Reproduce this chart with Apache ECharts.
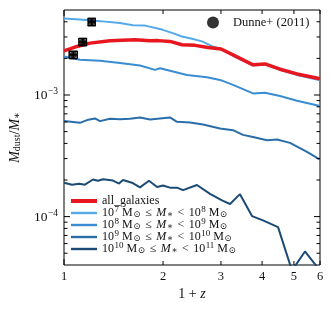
<!DOCTYPE html>
<html>
<head>
<meta charset="utf-8">
<script src="https://cdn.jsdelivr.net/npm/echarts@6/dist/echarts.min.js"></script>
<style>html,body{margin:0;padding:0;background:#fff}#c{width:334px;height:313px}</style>
</head>
<body>
<div id="c"></div>
<script>
// ---- data ----
const zAll = [1.0,1.080,1.200,1.380,1.643,1.826,1.931,2.100,2.284,2.502,2.740,3.001,3.287,3.754,4.083,4.535,5.108,6.0];
const allGalaxies = [2.31e-3,2.48e-3,2.67e-3,2.79e-3,2.85e-3,2.79e-3,2.80e-3,2.76e-3,2.59e-3,2.56e-3,2.46e-3,2.39e-3,2.12e-3,1.77e-3,1.80e-3,1.63e-3,1.49e-3,1.36e-3];

const z7 = [1.0,1.118,1.286,1.480,1.621,1.763,1.986,2.129,2.284,2.449,2.627,2.818,3.022,3.311,3.754,4.083,4.535,5.108,6.0];
const m7 = [4.25e-3,4.17e-3,4.05e-3,3.91e-3,3.75e-3,3.72e-3,3.45e-3,3.24e-3,3.03e-3,2.90e-3,2.76e-3,2.52e-3,2.38e-3,2.06e-3,1.75e-3,1.78e-3,1.61e-3,1.46e-3,1.32e-3];

const z8 = [1.0,1.118,1.286,1.480,1.702,1.891,1.958,2.100,2.365,2.720,2.980,3.264,3.754,4.083,4.535,5.108,6.0];
const m8 = [2.07e-3,1.95e-3,1.91e-3,1.83e-3,1.75e-3,1.61e-3,1.66e-3,1.58e-3,1.46e-3,1.40e-3,1.33e-3,1.21e-3,1.03e-3,1.045e-3,9.8e-4,8.97e-4,8.11e-4];

const z9 = [1.0,1.118,1.175,1.242,1.286,1.380,1.480,1.587,1.702,1.826,1.958,2.100,2.206,2.415,2.646,2.980,3.264,3.500,3.754,4.140,4.441,4.863,5.478,6.0];
const m9 = [6.10e-4,5.90e-4,6.22e-4,6.42e-4,6.10e-4,6.37e-4,6.33e-4,6.37e-4,6.54e-4,6.30e-4,6.42e-4,6.54e-4,6.02e-4,5.95e-4,5.73e-4,5.31e-4,5.14e-4,4.70e-4,4.52e-4,4.25e-4,4.31e-4,4.04e-4,3.40e-4,2.94e-4];

const z10 = [1.0,1.058,1.111,1.158,1.225,1.269,1.314,1.409,1.470,1.511,1.609,1.702,1.813,1.918,2.0,2.100,2.206,2.300,2.536,2.779,3.022,3.196,3.427,3.728,4.026,4.473,4.932,5.401,6.0];
const m10 = [1.90e-4,1.83e-4,1.86e-4,1.83e-4,2.02e-4,1.97e-4,2.03e-4,1.98e-4,1.87e-4,2.0e-4,1.90e-4,1.74e-4,1.97e-4,1.75e-4,1.80e-4,1.73e-4,1.73e-4,1.65e-4,1.82e-4,1.54e-4,1.36e-4,1.27e-4,1.53e-4,1.01e-4,9.3e-5,8.2e-5,3.6e-5,5.17e-5,3.6e-5];

const dunneZ = [1.067,1.14,1.214];
const dunneRatio = [2.14e-3,2.73e-3,3.99e-3];
const dunneZErr = [0.03,0.03,0.03];
const dunneRatioErr = [0.15e-3,0.19e-3,0.28e-3];

const xTicks = [1,2,3,4,5,6];
const xTickLabels = ['1','2','3','4','5','6'];
const yMajorTicks = [1e-4,1e-3];
const yTickLabels = ['{n|10}{s|−4}','{n|10}{s|−3}'];
const yMinorTicks = [5e-5,6e-5,7e-5,8e-5,9e-5,2e-4,3e-4,4e-4,5e-4,6e-4,7e-4,8e-4,9e-4,2e-3,3e-3,4e-3];

const X_MIN = 1, X_MAX = 6, Y_MIN = 4e-5, Y_MAX = 5e-3;

const legendLabels = {
  all_galaxies: '{n|all_galaxies}',
  m7: '{n|10}{s|7}{n| M}{b|⊙}{o|≤}{i|M}{b|∗}{o|<}{n|10}{s|8}{n| M}{b|⊙}',
  m8: '{n|10}{s|8}{n| M}{b|⊙}{o|≤}{i|M}{b|∗}{o|<}{n|10}{s|9}{n| M}{b|⊙}',
  m9: '{n|10}{s|9}{n| M}{b|⊙}{o|≤}{i|M}{b|∗}{o|<}{n|10}{s|10}{n| M}{b|⊙}',
  m10: '{n|10}{s|10}{n| M}{b|⊙}{o|≤}{i|M}{b|∗}{o|<}{n|10}{s|11}{n| M}{b|⊙}'
};

const FONT = "'Liberation Serif','DejaVu Serif',serif";
const rich = {
  n: {fontFamily: FONT, fontSize: 12, lineHeight: 12, verticalAlign: 'bottom', color: '#111'},
  o: {fontFamily: FONT, fontSize: 12, lineHeight: 12, verticalAlign: 'bottom', color: '#111', padding: [0, 4.5, 0, 4.5]},
  i: {fontFamily: FONT, fontSize: 12, lineHeight: 12, fontStyle: 'italic', verticalAlign: 'bottom', color: '#111'},
  s: {fontFamily: FONT, fontSize: 9, lineHeight: 8, verticalAlign: 'bottom', padding: [0,0,4.5,0.5], color: '#111'},
  b: {fontFamily: FONT, fontSize: 9, lineHeight: 8, verticalAlign: 'bottom', padding: [0,0,0,0.5], color: '#111'}
};
const richBig = {
  n: {fontFamily: FONT, fontSize: 14, lineHeight: 14, verticalAlign: 'bottom', color: '#111'},
  i: {fontFamily: FONT, fontSize: 14, lineHeight: 14, fontStyle: 'italic', verticalAlign: 'bottom', color: '#111'},
  b: {fontFamily: FONT, fontSize: 10, lineHeight: 9, verticalAlign: 'bottom', color: '#111'}
};

const zip = (a, b) => a.map((v, k) => [v, b[k]]);

function xTickRender(params, api) {
  const cs = params.coordSys;
  const x = api.coord([api.value(0), Y_MIN])[0];
  const len = api.value(0) === 1 ? 6 : 4;
  const yb = cs.y + cs.height, yt = cs.y;
  return {type: 'group', children: [
    {type: 'line', shape: {x1: x, y1: yb, x2: x, y2: yb - len}, style: {stroke: '#000', lineWidth: 1}},
    {type: 'line', shape: {x1: x, y1: yt, x2: x, y2: yt + len}, style: {stroke: '#000', lineWidth: 1}},
    {type: 'text', x: x, y: yb + 5, style: {text: xTickLabels[params.dataIndex], fontFamily: FONT, fontSize: 12.5, fill: '#111', align: 'center', verticalAlign: 'top'}}
  ]};
}
function yTickRender(len, withLabel) {
  return function (params, api) {
    const cs = params.coordSys;
    const y = api.coord([X_MIN, api.value(1)])[1];
    const xl = cs.x, xr = cs.x + cs.width;
    const ch = [
      {type: 'line', shape: {x1: xl, y1: y, x2: xl + len, y2: y}, style: {stroke: '#000', lineWidth: 1}},
      {type: 'line', shape: {x1: xr, y1: y, x2: xr - len, y2: y}, style: {stroke: '#000', lineWidth: 1}}
    ];
    if (withLabel) {
      ch.push({type: 'text', x: xl - 6, y: y + 1, style: {text: yTickLabels[params.dataIndex], rich: {
        n: {fontFamily: FONT, fontSize: 13.5, lineHeight: 13, verticalAlign: 'bottom', fill: '#111'},
        s: {fontFamily: FONT, fontSize: 9.5, lineHeight: 9, verticalAlign: 'bottom', padding: [0,0,6,0.5], fill: '#111'}
      }, align: 'right', verticalAlign: 'middle'}});
    }
    return {type: 'group', children: ch};
  };
}
function errRender(params, api) {
  const i = params.dataIndex;
  const z = dunneZ[i], r = dunneRatio[i];
  const c = api.coord([z, r]);
  const l = api.coord([z - dunneZErr[i], r])[0];
  const rr = api.coord([z + dunneZErr[i], r])[0];
  const t = api.coord([z, r + dunneRatioErr[i]])[1];
  const b = api.coord([z, r - dunneRatioErr[i]])[1];
  const cap = 4;
  const st = {stroke: '#000', lineWidth: 1.5};
  return {type: 'group', children: [
    {type: 'line', shape: {x1: l, y1: c[1], x2: rr, y2: c[1]}, style: st},
    {type: 'line', shape: {x1: c[0], y1: t, x2: c[0], y2: b}, style: st},
    {type: 'line', shape: {x1: l, y1: c[1] - cap, x2: l, y2: c[1] + cap}, style: st},
    {type: 'line', shape: {x1: rr, y1: c[1] - cap, x2: rr, y2: c[1] + cap}, style: st},
    {type: 'line', shape: {x1: c[0] - cap, y1: t, x2: c[0] + cap, y2: t}, style: st},
    {type: 'line', shape: {x1: c[0] - cap, y1: b, x2: c[0] + cap, y2: b}, style: st}
  ]};
}

const lineSeries = (name, xs, ys, color, width, z) => ({
  name: name, type: 'line', data: zip(xs, ys), showSymbol: false, symbol: 'none',
  lineStyle: {color: color, width: width}, itemStyle: {color: color}, z: z, clip: true
});

const option = {
  animation: false,
  grid: {left: 64, right: 14, top: 10, bottom: 48, show: true, borderColor: '#000', borderWidth: 1, backgroundColor: 'transparent'},
  xAxis: {
    type: 'log', min: X_MIN, max: X_MAX, logBase: 10,
    axisLine: {show: false}, axisTick: {show: false}, axisLabel: {show: false}, splitLine: {show: false},
    name: '{n|1 + }{i|z}', nameLocation: 'middle', nameGap: 22,
    nameTextStyle: {rich: richBig}
  },
  yAxis: {
    type: 'log', min: Y_MIN, max: Y_MAX, logBase: 10,
    axisLine: {show: false}, axisTick: {show: false}, axisLabel: {show: false}, splitLine: {show: false},
    name: '{i|M}{b|dust}{n|/}{i|M}{b|∗}', nameLocation: 'middle', nameGap: 42, nameRotate: 90,
    nameTextStyle: {rich: richBig}
  },
  legend: [{
    data: [
      {name: 'all_galaxies', icon: 'path://M0,0H26V4H0Z'},
      {name: 'm7', icon: 'path://M0,0H26V2.4H0Z'},
      {name: 'm8', icon: 'path://M0,0H26V2.4H0Z'},
      {name: 'm9', icon: 'path://M0,0H26V2.4H0Z'},
      {name: 'm10', icon: 'path://M0,0H26V2.4H0Z'}
    ],
    orient: 'vertical', left: 71, top: 195,
    itemWidth: 26, itemHeight: 8, itemGap: -1.5, padding: 0,
    formatter: n => legendLabels[n],
    textStyle: {rich: rich}
  }, {
    data: [{name: 'Dunne+ (2011)', icon: 'circle'}], left: 207, top: 16, padding: 0,
    itemWidth: 12, itemHeight: 12,
    textStyle: {fontFamily: FONT, fontSize: 12.5, color: '#111', padding: [0, 0, 0, 9]}
  }],
  series: [
    lineSeries('m10', z10, m10, '#1b4b74', 2, 2),
    lineSeries('m9', z9, m9, '#2a6ea9', 2, 3),
    lineSeries('m8', z8, m8, '#3a8dd2', 2, 4),
    lineSeries('m7', z7, m7, '#55a9e8', 2, 5),
    lineSeries('all_galaxies', zAll, allGalaxies, '#e8161e', 3.5, 6),
    {type: 'custom', renderItem: errRender, data: zip(dunneZ, dunneRatio), z: 8, silent: true},
    {name: 'Dunne+ (2011)', type: 'scatter', data: zip(dunneZ, dunneRatio), symbol: 'circle', symbolSize: 7, itemStyle: {color: '#000'}, z: 9},
    {type: 'custom', renderItem: xTickRender, data: xTicks.map(v => [v, Y_MIN]), z: 10, silent: true},
    {type: 'custom', renderItem: yTickRender(6, true), data: yMajorTicks.map(v => [X_MIN, v]), z: 10, silent: true},
    {type: 'custom', renderItem: yTickRender(3.5, false), data: yMinorTicks.map(v => [X_MIN, v]), z: 10, silent: true}
  ]
};
const chart = echarts.init(document.getElementById('c'), null, {renderer: 'canvas'});
chart.setOption(option);
</script>
</body>
</html>
